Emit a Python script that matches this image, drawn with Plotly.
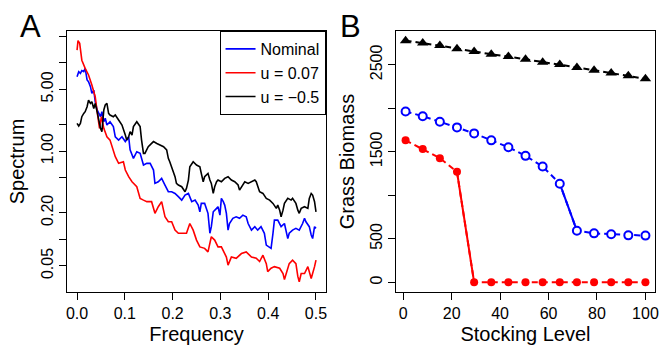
import plotly.graph_objects as go

# ---------------- Panel A data (spectra) ----------------
freq_nominal = [0.000, 0.0035, 0.007, 0.010, 0.014, 0.017, 0.021, 0.024, 0.028, 0.031, 0.035, 0.038,
                0.042, 0.045, 0.049, 0.052, 0.056, 0.059, 0.0625, 0.069, 0.076, 0.080, 0.087, 0.094,
                0.101, 0.108, 0.111, 0.118, 0.125, 0.132, 0.139, 0.146, 0.153, 0.160, 0.163, 0.170,
                0.177, 0.184, 0.191, 0.198, 0.205, 0.212, 0.219, 0.226, 0.233, 0.240, 0.247, 0.2535,
                0.257, 0.260, 0.267, 0.274, 0.278, 0.281, 0.285, 0.292, 0.295, 0.299, 0.302, 0.306,
                0.309, 0.3125, 0.316, 0.319, 0.326, 0.333, 0.340, 0.347, 0.354, 0.358, 0.365, 0.372,
                0.378, 0.385, 0.392, 0.396, 0.403, 0.406, 0.410, 0.413, 0.420, 0.427, 0.434, 0.4375,
                0.441, 0.444, 0.451, 0.458, 0.465, 0.472, 0.476, 0.479, 0.486, 0.490, 0.493, 0.497, 0.500]
spec_nominal = [6.96, 7.93, 7.59, 8.15, 7.93, 8.65, 6.38, 6.11, 5.36, 4.51, 4.91, 3.62,
                2.92, 2.67, 2.45, 2.79, 2.15, 2.35, 1.97, 2.15, 1.89, 1.45, 1.33, 1.45,
                1.28, 1.45, 1.03, 0.826, 0.982, 0.941, 0.694, 0.725, 0.725, 0.609, 0.430, 0.449,
                0.490, 0.412, 0.346, 0.346, 0.331, 0.304, 0.278, 0.317, 0.331, 0.267, 0.278, 0.244,
                0.205, 0.255, 0.255, 0.197, 0.117, 0.139, 0.205, 0.224, 0.234, 0.188, 0.291, 0.267,
                0.244, 0.197, 0.127, 0.151, 0.173, 0.180, 0.173, 0.188, 0.180, 0.151, 0.127, 0.139,
                0.127, 0.139, 0.117, 0.086, 0.082, 0.079, 0.117, 0.165, 0.165, 0.139, 0.151, 0.127,
                0.102, 0.117, 0.127, 0.133, 0.127, 0.151, 0.173, 0.158, 0.139, 0.112, 0.102, 0.139, 0.133]

freq_u007 = [0.000, 0.002, 0.0055, 0.010, 0.017, 0.024, 0.031, 0.038, 0.043, 0.047, 0.051, 0.056,
             0.0625, 0.069, 0.080, 0.087, 0.097, 0.101, 0.108, 0.115, 0.125, 0.132, 0.139, 0.146,
             0.156, 0.163, 0.170, 0.177, 0.184, 0.191, 0.198, 0.205, 0.212, 0.219, 0.229, 0.236,
             0.243, 0.250, 0.257, 0.267, 0.274, 0.281, 0.288, 0.295, 0.302, 0.3125, 0.316, 0.323,
             0.333, 0.344, 0.354, 0.365, 0.375, 0.382, 0.389, 0.396, 0.399, 0.406, 0.413, 0.424,
             0.431, 0.434, 0.4375, 0.444, 0.451, 0.458, 0.462, 0.465, 0.469, 0.476, 0.483, 0.490,
             0.497, 0.500]
spec_u007 = [13.9, 17.8, 16.6, 10.7, 8.65, 7.27, 5.60, 4.13, 2.56, 1.81, 2.45, 1.81,
             1.45, 1.33, 0.863, 0.725, 0.757, 0.609, 0.512, 0.449, 0.394, 0.291, 0.278, 0.267,
             0.267, 0.197, 0.234, 0.267, 0.180, 0.158, 0.158, 0.127, 0.117, 0.117, 0.117, 0.151,
             0.127, 0.098, 0.082, 0.079, 0.072, 0.107, 0.098, 0.082, 0.082, 0.063, 0.051, 0.063,
             0.061, 0.069, 0.072, 0.063, 0.061, 0.056, 0.066, 0.053, 0.043, 0.047, 0.049, 0.047,
             0.041, 0.035, 0.041, 0.053, 0.058, 0.053, 0.038, 0.033, 0.041, 0.041, 0.049, 0.036,
             0.049, 0.058]

freq_neg05 = [0.000, 0.0035, 0.007, 0.010, 0.014, 0.017, 0.021, 0.024, 0.028, 0.031, 0.035, 0.038,
              0.042, 0.045, 0.049, 0.052, 0.056, 0.059, 0.0625, 0.066, 0.069, 0.076, 0.080, 0.087,
              0.094, 0.101, 0.104, 0.108, 0.111, 0.115, 0.118, 0.125, 0.128, 0.132, 0.135, 0.139,
              0.142, 0.146, 0.149, 0.156, 0.160, 0.167, 0.174, 0.181, 0.1875, 0.191, 0.194, 0.198,
              0.201, 0.205, 0.208, 0.212, 0.219, 0.226, 0.229, 0.233, 0.236, 0.240, 0.243, 0.250,
              0.257, 0.260, 0.264, 0.267, 0.271, 0.274, 0.278, 0.281, 0.285, 0.288, 0.292, 0.295,
              0.302, 0.309, 0.316, 0.323, 0.330, 0.337, 0.340, 0.344, 0.351, 0.358, 0.365, 0.372,
              0.375, 0.378, 0.382, 0.389, 0.396, 0.403, 0.410, 0.417, 0.420, 0.424, 0.427, 0.431,
              0.434, 0.441, 0.448, 0.451, 0.458, 0.462, 0.465, 0.469, 0.476, 0.483, 0.486, 0.490,
              0.493, 0.497, 0.500]
spec_neg05 = [2.06, 1.92, 2.06, 2.45, 2.67, 2.79, 3.18, 3.78, 3.47, 3.62, 3.04, 3.47,
              2.79, 2.25, 1.81, 1.66, 2.92, 3.32, 3.47, 2.67, 2.56, 2.45, 2.56, 2.25,
              1.97, 1.52, 1.33, 1.45, 1.66, 1.52, 1.89, 2.15, 2.06, 1.89, 1.33, 0.941,
              0.941, 1.07, 1.12, 1.22, 1.28, 1.22, 1.17, 1.12, 1.03, 0.826, 0.757, 0.664,
              0.609, 0.512, 0.430, 0.412, 0.394, 0.346, 0.378, 0.469, 0.664, 0.725, 0.757, 0.694,
              0.664, 0.558, 0.449, 0.512, 0.535, 0.558, 0.469, 0.430, 0.331, 0.394, 0.449, 0.469,
              0.449, 0.490, 0.512, 0.469, 0.449, 0.412, 0.361, 0.394, 0.449, 0.430, 0.449, 0.469,
              0.449, 0.394, 0.346, 0.331, 0.291, 0.278, 0.255, 0.224, 0.244, 0.214, 0.180, 0.214,
              0.255, 0.291, 0.278, 0.291, 0.255, 0.214, 0.197, 0.224, 0.234, 0.224, 0.291, 0.331,
              0.317, 0.267, 0.205]

spec_tickvals = [0.05, 0.1, 0.2, 0.5, 1, 2, 5, 10, 20]
spec_ticktext = ["0.05", "", "0.20", "", "1.00", "", "5.00", "", ""]
freq_tickvals = [0.0, 0.1, 0.2, 0.3, 0.4, 0.5]
freq_ticktext = ["0.0", "0.1", "0.2", "0.3", "0.4", "0.5"]

# ---------------- Panel B data (grass biomass) ----------------
stocking = [1, 8.07, 15.14, 22.21, 29.29, 36.36, 43.43, 50.5, 57.57, 64.64, 71.71, 78.79, 85.86, 92.93, 100]
grass_neg05 = [2778, 2751, 2721, 2686, 2652, 2622, 2595, 2565, 2530, 2504, 2470, 2439, 2405, 2374, 2340]
grass_nominal = [1963, 1910, 1846, 1781, 1712, 1632, 1553, 1454, 1332, 1134, 594, 563, 552, 540, 537]
grass_u007 = [1632, 1533, 1427, 1271, 0, 0, 0, 0, 0, 0, 0, 0, 0, 0, 0]
nominal_jump = (9, 11)   # index range of the solid (collapse) segment
u007_jump = (3, 5)

stock_tickvals = [0, 20, 40, 60, 80, 100]
grass_tickvals = [0, 500, 1000, 1500, 2000, 2500]
grass_ticktext = ["0", "500", "", "1500", "", "2500"]

FONT = "Liberation Sans, Arial, sans-serif"
W, H = 664, 345

fig = go.Figure()

# Panel A
fig.add_trace(go.Scatter(x=freq_nominal, y=spec_nominal, mode="lines", name="Nominal",
                         line=dict(color="#0000FF", width=1.6), xaxis="x", yaxis="y"))
fig.add_trace(go.Scatter(x=freq_u007, y=spec_u007, mode="lines", name="u = 0.07",
                         line=dict(color="#FF0000", width=1.6), xaxis="x", yaxis="y"))
fig.add_trace(go.Scatter(x=freq_neg05, y=spec_neg05, mode="lines", name="u = \u22120.5",
                         line=dict(color="#000000", width=1.6), xaxis="x", yaxis="y"))

# Panel B
fig.add_trace(go.Scatter(x=stocking, y=grass_neg05, mode="lines+markers", showlegend=False,
                         line=dict(color="black", width=2, dash="6px,4px"),
                         marker=dict(symbol="triangle-up", size=10, color="black"),
                         xaxis="x2", yaxis="y2"))
a, b = nominal_jump
fig.add_trace(go.Scatter(x=stocking[a:b], y=grass_nominal[a:b], mode="lines", showlegend=False,
                         line=dict(color="#0000FF", width=2), xaxis="x2", yaxis="y2"))
fig.add_trace(go.Scatter(x=stocking, y=grass_nominal, mode="lines+markers", showlegend=False,
                         line=dict(color="#0000FF", width=2, dash="6px,4px"),
                         marker=dict(symbol="circle", size=8, color="white",
                                     line=dict(color="#0000FF", width=2)),
                         xaxis="x2", yaxis="y2"))
a, b = u007_jump
fig.add_trace(go.Scatter(x=stocking[a:b], y=grass_u007[a:b], mode="lines", showlegend=False,
                         line=dict(color="#FF0000", width=2), xaxis="x2", yaxis="y2"))
fig.add_trace(go.Scatter(x=stocking, y=grass_u007, mode="lines+markers", showlegend=False,
                         line=dict(color="#FF0000", width=2, dash="6px,4px"),
                         marker=dict(symbol="circle", size=8, color="#FF0000"),
                         xaxis="x2", yaxis="y2"))

axis_common = dict(showline=True, mirror=True, linecolor="black", linewidth=1,
                   ticks="outside", ticklen=7, tickwidth=1, tickcolor="black",
                   showgrid=False, zeroline=False,
                   tickfont=dict(family=FONT, size=16, color="black"))

ydom = [1 - 292 / H, 1 - 31 / H]
fig.update_layout(
    width=W, height=H,
    margin=dict(l=0, r=0, t=0, b=0),
    paper_bgcolor="white", plot_bgcolor="white",
    font=dict(family=FONT, size=16, color="black"),
    xaxis=dict(domain=[67 / W, 327 / W], range=[-0.02, 0.52],
               tickvals=freq_tickvals, ticktext=freq_ticktext,
               title=dict(text="Frequency", font=dict(size=20), standoff=9),
               anchor="y", **axis_common),
    yaxis=dict(domain=ydom, type="log", range=[-1.597, 1.36],
               tickvals=spec_tickvals, ticktext=spec_ticktext, tickangle=-90,
               title=dict(text="Spectrum", font=dict(size=20), standoff=9),
               anchor="x", **axis_common),
    xaxis2=dict(domain=[398 / W, 659 / W], range=[-2.96, 103.96],
                tickvals=stock_tickvals,
                title=dict(text="Stocking Level", font=dict(size=20), standoff=9),
                anchor="y2", **axis_common),
    yaxis2=dict(domain=ydom, range=[-111, 2889],
                tickvals=grass_tickvals, ticktext=grass_ticktext, tickangle=-90,
                title=dict(text="Grass Biomass", font=dict(size=20), standoff=7),
                anchor="x2", **axis_common),
    legend=dict(x=327 / W, y=1 - 31 / H, xanchor="right", yanchor="top",
                bordercolor="black", borderwidth=1, bgcolor="white",
                font=dict(family=FONT, size=16, color="black"),
                tracegroupgap=0, itemwidth=30, entrywidth=72, entrywidthmode="pixels"),
    annotations=[
        dict(text="A", x=30 / W, y=1 - 26 / H, xref="paper", yref="paper",
             showarrow=False, font=dict(family=FONT, size=31, color="black"),
             xanchor="center", yanchor="middle"),
        dict(text="B", x=352 / W, y=1 - 26 / H, xref="paper", yref="paper",
             showarrow=False, font=dict(family=FONT, size=31, color="black"),
             xanchor="center", yanchor="middle"),
    ],
)

fig.write_html("out.html")
